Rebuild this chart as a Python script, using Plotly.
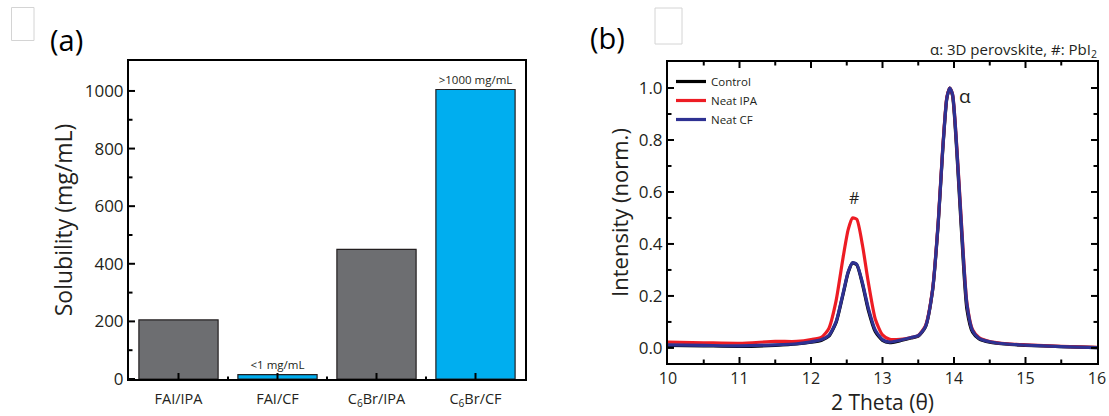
import plotly.graph_objects as go

# ---------------- data ----------------
categories = ["FAI/IPA", "FAI/CF", "C<sub>6</sub>Br/IPA", "C<sub>6</sub>Br/CF"]
solubility = [205, 15, 450, 1005]
bar_labels = ["", "<1 mg/mL", "", ">1000 mg/mL"]
bar_colors = ["#6d6e71", "#00aeef", "#6d6e71", "#00aeef"]

two_theta = [10.0, 10.5, 11.0, 11.5, 11.8, 12.0, 12.15, 12.25, 12.35, 12.45, 12.52,
             12.58, 12.64, 12.72, 12.8, 12.9, 13.0, 13.1, 13.25, 13.4, 13.5, 13.6,
             13.7, 13.78, 13.84, 13.9, 13.94, 13.98, 14.04, 14.1, 14.18, 14.26,
             14.35, 14.5, 14.75, 15.0, 15.5, 16.0]
control = [0.010, 0.008, 0.006, 0.010, 0.015, 0.022, 0.030, 0.045, 0.097, 0.208, 0.290,
           0.327, 0.320, 0.245, 0.147, 0.062, 0.029, 0.020, 0.028, 0.038, 0.045, 0.080,
           0.220, 0.480, 0.750, 0.960, 1.000, 0.970, 0.750, 0.470, 0.150, 0.060,
           0.035, 0.022, 0.014, 0.010, 0.005, 0.001]
neat_ipa = [0.022, 0.020, 0.018, 0.025, 0.025, 0.032, 0.042, 0.075, 0.180, 0.350, 0.455,
            0.500, 0.495, 0.395, 0.255, 0.110, 0.050, 0.033, 0.033, 0.040, 0.048, 0.085,
            0.225, 0.490, 0.760, 0.965, 1.000, 0.975, 0.770, 0.500, 0.175, 0.070,
            0.040, 0.025, 0.016, 0.012, 0.006, 0.002]
neat_cf = [0.012, 0.010, 0.008, 0.012, 0.016, 0.023, 0.032, 0.048, 0.100, 0.212, 0.293,
           0.328, 0.322, 0.250, 0.155, 0.068, 0.032, 0.022, 0.030, 0.040, 0.047, 0.082,
           0.222, 0.485, 0.755, 0.962, 1.000, 0.975, 0.765, 0.490, 0.170, 0.066,
           0.037, 0.024, 0.015, 0.011, 0.005, 0.001]

x_ticks_b = [10, 11, 12, 13, 14, 15, 16]
x_minor_b = [10.5, 11.5, 12.5, 13.5, 14.5, 15.5]
y_ticks_b = [0.0, 0.2, 0.4, 0.6, 0.8, 1.0]
y_minor_b = [0.1, 0.3, 0.5, 0.7, 0.9]
y_ticks_a = [0, 200, 400, 600, 800, 1000]
y_minor_a = [100, 300, 500, 700, 900]
x_minor_a = [0.5, 1.5, 2.5]

FONT = "Open Sans"
INK = "#231f20"

fig = go.Figure()

fig.add_trace(go.Bar(
    x=list(range(len(categories))), y=solubility,
    marker=dict(color=bar_colors, line=dict(color=INK, width=1.2)),
    width=0.8,
    text=bar_labels, textposition="outside", cliponaxis=False,
    textfont=dict(size=11.5, color=INK, family=FONT),
    xaxis="x", yaxis="y", showlegend=False,
))

for name, vals, col in [("Control", control, "#000000"),
                        ("Neat IPA", neat_ipa, "#ed1c24"),
                        ("Neat CF", neat_cf, "#2e3192")]:
    fig.add_trace(go.Scatter(
        x=two_theta, y=vals, mode="lines", name=name,
        line=dict(color=col, width=3.2, shape="spline", smoothing=0.6),
        xaxis="x2", yaxis="y2",
    ))

W, H = 1109, 416
def px_x(p): return p / W
def px_y(p): return (H - p) / H

BASE = dict(showline=True, linecolor="#000000", linewidth=2,
            showgrid=False, zeroline=False, automargin=False, ticks="")

fig.update_layout(
    width=W, height=H,
    margin=dict(l=0, r=0, t=0, b=0, autoexpand=False),
    paper_bgcolor="white", plot_bgcolor="white",
    font=dict(family=FONT, color=INK),
    bargap=0.2,
    xaxis=dict(**BASE, domain=[px_x(129), px_x(525)], anchor="y",
               range=[-0.5, 3.5], tickmode="array",
               tickvals=list(range(len(categories))),
               ticktext=categories, mirror=True, ticklabelstandoff=6,
               tickfont=dict(family=FONT, size=14.5, color=INK)),
    yaxis=dict(**BASE, domain=[px_y(379), px_y(61)], anchor="x",
               range=[0, 1104], tickmode="array", tickvals=y_ticks_a, mirror=True,
               tickfont=dict(family=FONT, size=17, color=INK),
               title=dict(text="Solubility (mg/mL)",
                          font=dict(family=FONT, size=23, color=INK), standoff=6)),
    xaxis2=dict(**BASE, domain=[px_x(668), px_x(1097)], anchor="y2",
                range=[10, 16], tickmode="array", tickvals=x_ticks_b, mirror=True,
                tickfont=dict(family=FONT, size=16, color=INK),
                title=dict(text="2 Theta (θ)",
                           font=dict(family=FONT, size=21, color=INK), standoff=4)),
    yaxis2=dict(**BASE, domain=[px_y(363), px_y(62)], anchor="x2",
                range=[-0.058, 1.1], tickmode="array", tickvals=y_ticks_b,
                tickformat=".1f", mirror=True,
                tickfont=dict(family=FONT, size=17, color=INK),
                title=dict(text="Intensity (norm.)",
                           font=dict(family=FONT, size=22, color=INK), standoff=4)),
    legend=dict(x=px_x(671), y=px_y(67), xanchor="left", yanchor="top",
                bgcolor="rgba(0,0,0,0)", font=dict(family=FONT, size=11.5, color=INK),
                itemwidth=30, tracegroupgap=0),
)

annotations = [
    dict(text="(a)", x=px_x(48), y=px_y(39), xref="paper", yref="paper",
         xanchor="left", yanchor="middle", showarrow=False,
         font=dict(family=FONT, size=29, color="#000000")),
    dict(text="(b)", x=px_x(588), y=px_y(37), xref="paper", yref="paper",
         xanchor="left", yanchor="middle", showarrow=False,
         font=dict(family=FONT, size=29, color="#000000")),
    dict(text="α: 3D perovskite, #: PbI<sub>2</sub>", x=px_x(1099), y=px_y(50),
         xref="paper", yref="paper", xanchor="right", yanchor="middle",
         showarrow=False, font=dict(family=FONT, size=15, color=INK)),
    dict(text="#", x=12.6, y=0.575, xref="x2", yref="y2", showarrow=False,
         font=dict(family=FONT, size=16, color=INK)),
    dict(text="α", x=14.15, y=0.97, xref="x2", yref="y2", showarrow=False,
         font=dict(family=FONT, size=19, color=INK)),
]
fig.update_layout(annotations=annotations)

# inside tick marks, placed through the axes' own scales (domain fraction for length)
TICK = dict(type="line", line=dict(color="#000000", width=2), layer="above")
shapes = []
def yticks(axis, vals, length_frac, both):
    for v in vals:
        shapes.append(dict(**TICK, xref=f"x{axis} domain", yref=f"y{axis}",
                           x0=0, x1=length_frac, y0=v, y1=v))
        if both:
            shapes.append(dict(**TICK, xref=f"x{axis} domain", yref=f"y{axis}",
                               x0=1 - length_frac, x1=1, y0=v, y1=v))
def xticks(axis, vals, length_frac, both):
    for v in vals:
        shapes.append(dict(**TICK, xref=f"x{axis}", yref=f"y{axis} domain",
                           x0=v, x1=v, y0=0, y1=length_frac))
        if both:
            shapes.append(dict(**TICK, xref=f"x{axis}", yref=f"y{axis} domain",
                               x0=v, x1=v, y0=1 - length_frac, y1=1))

# panel (a): plot box 396 x 318 px
yticks("", y_ticks_a, 6 / 396, False)
yticks("", y_minor_a, 3.5 / 396, False)
xticks("", list(range(len(categories))), 6 / 318, False)
xticks("", x_minor_a, 2.5 / 318, False)
# panel (b): plot box 429 x 301 px
yticks("2", y_ticks_b, 6 / 429, True)
yticks("2", y_minor_b, 3.5 / 429, True)
xticks("2", x_ticks_b[1:-1], 6 / 301, True)
xticks("2", x_minor_b, 3.5 / 301, True)

shapes += [
    dict(type="rect", xref="paper", yref="paper",
         x0=px_x(11.5), x1=px_x(34), y0=px_y(40.5), y1=px_y(7.5),
         line=dict(color="#d4d4d4", width=1)),
    dict(type="rect", xref="paper", yref="paper",
         x0=px_x(655), x1=px_x(682), y0=px_y(44), y1=px_y(8),
         line=dict(color="#d4d4d4", width=1)),
]
fig.update_layout(shapes=shapes)

fig.write_html("out.html")
